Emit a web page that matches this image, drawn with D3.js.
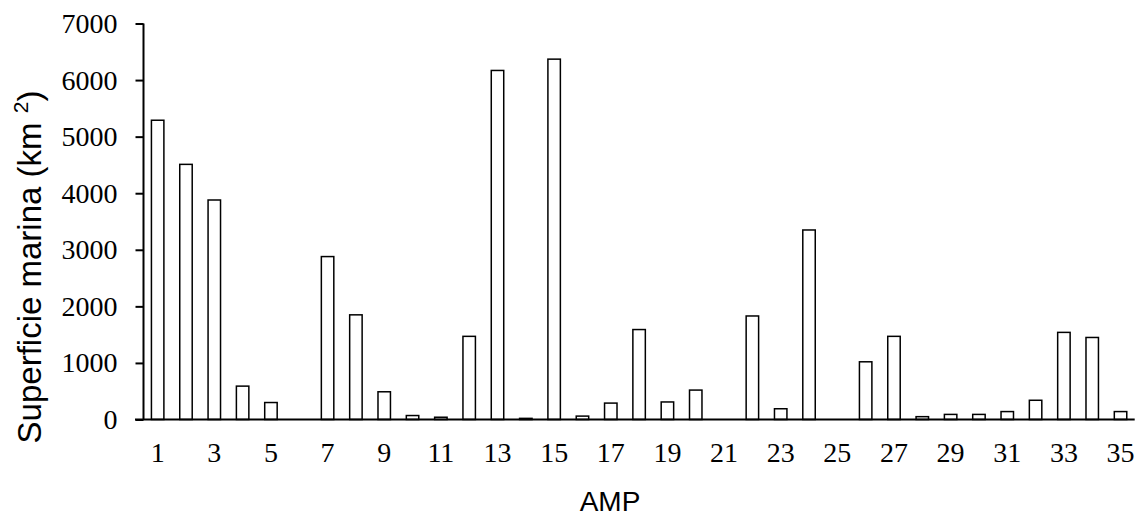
<!DOCTYPE html>
<html>
<head>
<meta charset="utf-8">
<script src="https://cdn.jsdelivr.net/npm/d3@7/dist/d3.min.js"></script>
<style>
  html, body { margin: 0; padding: 0; background: #fff; }
  svg { display: block; }
</style>
</head>
<body>
<svg id="chart" width="1141" height="518"></svg>
<script>
const categories = d3.range(1, 36).map(String);
const values = [5290, 4510, 3880, 590, 300, 0, 2880, 1850, 490, 70,
                40, 1470, 6170, 20, 6370, 60, 290, 1590, 310, 520,
                0, 1830, 190, 3350, 0, 1020, 1470, 50, 90, 90,
                140, 340, 1540, 1450, 140];
const yTicks = [0, 1000, 2000, 3000, 4000, 5000, 6000, 7000];
const xTickLabels = categories.filter((d, i) => i % 2 === 0);
const yTitle = "Superficie marina (km ";
const yTitleSup = "2";
const xTitle = "AMP";

const data = categories.map((c, i) => ({ c, v: values[i] }));

const svg = d3.select("#chart");
const pLeft = 143.5, pRight = 1134.7, pTop = 23.5, pBottom = 419.5;

const x = d3.scaleBand().domain(categories).range([pLeft, pRight])
  .paddingInner(0.56).paddingOuter(0.28);
const y = d3.scaleLinear().domain([0, 7000]).range([pBottom, pTop]);

// bars
svg.append("g").selectAll("rect")
  .data(data.filter(d => d.v > 0))
  .join("rect")
  .attr("x", d => x(d.c))
  .attr("y", d => y(d.v))
  .attr("width", x.bandwidth())
  .attr("height", d => y(0) - y(d.v))
  .attr("fill", "#fff")
  .attr("stroke", "#000")
  .attr("stroke-width", 1.5);

// y axis
const yAxis = svg.append("g").attr("transform", `translate(${pLeft},0)`)
  .call(d3.axisLeft(y).tickValues(yTicks).tickSize(8).tickPadding(18).tickFormat(d3.format("d")));
yAxis.select(".domain").attr("stroke", "#000").attr("stroke-width", 2).attr("d", `M0,${pTop}V${pBottom}`);
yAxis.selectAll(".tick line").attr("stroke", "#000").attr("stroke-width", 2);
yAxis.selectAll(".tick text")
  .attr("font-family", "'Liberation Serif', 'Times New Roman', serif")
  .attr("font-size", 28).attr("fill", "#000");

// x axis
const xAxis = svg.append("g").attr("transform", `translate(0,${pBottom})`)
  .call(d3.axisBottom(x).tickValues(xTickLabels).tickSize(0).tickPadding(23));
xAxis.select(".domain").attr("stroke", "#000").attr("stroke-width", 2).attr("d", `M135,0H${pRight}`);
xAxis.selectAll(".tick text")
  .attr("font-family", "'Liberation Serif', 'Times New Roman', serif")
  .attr("font-size", 28).attr("fill", "#000");

// y title
const yt = svg.append("text")
  .attr("transform", `translate(41,267) rotate(-90)`)
  .attr("text-anchor", "middle")
  .attr("font-family", "'Liberation Sans', Arial, sans-serif")
  .attr("font-size", 33).attr("fill", "#000");
yt.append("tspan").text(yTitle);
yt.append("tspan").attr("font-size", 21).attr("dy", -13).text(yTitleSup);
yt.append("tspan").attr("dy", 13).text(")");

// x title
svg.append("text")
  .attr("x", 610).attr("y", 511)
  .attr("text-anchor", "middle")
  .attr("font-family", "'Liberation Sans', Arial, sans-serif")
  .attr("font-size", 28).attr("fill", "#000")
  .text(xTitle);
</script>
</body>
</html>
